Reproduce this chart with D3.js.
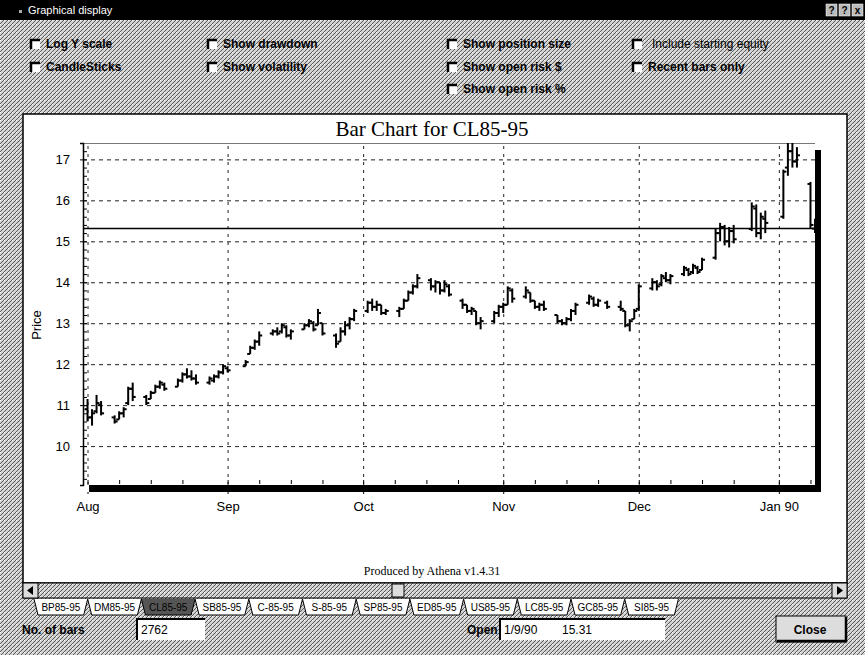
<!DOCTYPE html>
<html>
<head>
<meta charset="utf-8">
<script src="https://cdn.jsdelivr.net/npm/d3@7"></script>
<style>
  body { margin: 0; background: #fff; }
  svg { display: block; }
</style>
</head>
<body>
<div class="graph"></div>
<script>
// DATA –––––––––––––––––––––––––––––––––––––––––––––––––––––––––––––––

var barDates = [
  "8/1/89","8/2/89","8/3/89","8/4/89",
  "8/7/89","8/8/89","8/9/89","8/10/89","8/11/89",
  "8/14/89","8/15/89","8/16/89","8/17/89","8/18/89",
  "8/21/89","8/22/89","8/23/89","8/24/89","8/25/89",
  "8/28/89","8/29/89","8/30/89","8/31/89","9/1/89",
  "9/5/89","9/6/89","9/7/89","9/8/89",
  "9/11/89","9/12/89","9/13/89","9/14/89","9/15/89",
  "9/18/89","9/19/89","9/20/89","9/21/89","9/22/89",
  "9/25/89","9/26/89","9/27/89","9/28/89","9/29/89",
  "10/2/89","10/3/89","10/4/89","10/5/89","10/6/89",
  "10/9/89","10/10/89","10/11/89","10/12/89","10/13/89",
  "10/16/89","10/17/89","10/18/89","10/19/89","10/20/89",
  "10/23/89","10/24/89","10/25/89","10/26/89","10/27/89",
  "10/30/89","10/31/89","11/1/89","11/2/89","11/3/89",
  "11/6/89","11/7/89","11/8/89","11/9/89","11/10/89",
  "11/13/89","11/14/89","11/15/89","11/16/89","11/17/89",
  "11/20/89","11/21/89","11/22/89","11/24/89",
  "11/27/89","11/28/89","11/29/89","11/30/89","12/1/89",
  "12/4/89","12/5/89","12/6/89","12/7/89","12/8/89",
  "12/11/89","12/12/89","12/13/89","12/14/89","12/15/89",
  "12/18/89","12/19/89","12/20/89","12/21/89","12/22/89",
  "12/26/89","12/27/89","12/28/89","12/29/89",
  "1/2/90","1/3/90","1/4/90","1/5/90",
  "1/8/90","1/9/90"
];

var opens = [
  10.90,10.70,10.85,11.00,
  10.70,10.65,10.80,11.05,11.40,
  11.20,11.15,11.30,11.45,11.50,
  11.45,11.60,11.75,11.70,11.65,
  11.55,11.60,11.70,11.80,11.90,
  11.95,12.25,12.40,12.55,
  12.75,12.80,12.80,12.90,12.70,
  12.85,12.95,13.00,12.95,13.00,
  12.70,12.55,12.80,12.95,13.10,
  13.30,13.50,13.40,13.45,13.25,
  13.30,13.35,13.55,13.75,13.90,
  14.05,13.90,14.00,13.80,13.90,
  13.55,13.45,13.30,13.30,13.00,
  13.05,13.25,13.40,13.45,13.80,
  13.65,13.75,13.55,13.40,13.45,
  13.20,13.05,13.00,13.10,13.30,
  13.50,13.60,13.45,13.50,
  13.40,13.30,12.95,13.10,13.35,
  13.85,14.00,13.95,14.10,14.05,
  14.20,14.30,14.25,14.35,14.30,
  14.60,15.20,15.35,15.00,15.25,
  15.30,15.80,15.20,15.55,
  15.60,16.80,17.20,16.95,
  16.40,15.31
];

var highs = [
  11.15,10.90,11.25,11.10,
  10.75,10.85,10.95,11.45,11.55,
  11.25,11.35,11.50,11.60,11.55,
  11.65,11.80,11.90,11.85,11.75,
  11.70,11.75,11.85,12.00,11.95,
  12.10,12.45,12.60,12.80,
  12.85,12.90,13.00,12.95,12.85,
  13.00,13.10,13.05,13.35,13.00,
  12.75,12.90,13.05,13.15,13.35,
  13.55,13.60,13.55,13.45,13.35,
  13.40,13.60,13.80,13.95,14.20,
  14.10,14.05,14.00,14.05,13.95,
  13.60,13.45,13.40,13.30,13.15,
  13.30,13.45,13.50,13.90,13.85,
  13.90,13.75,13.55,13.50,13.55,
  13.20,13.10,13.15,13.35,13.50,
  13.70,13.65,13.60,13.55,
  13.55,13.30,13.10,13.35,13.95,
  14.10,14.05,14.20,14.25,14.20,
  14.40,14.35,14.45,14.40,14.60,
  15.30,15.45,15.40,15.35,15.40,
  15.95,15.90,15.70,15.75,
  16.75,17.40,17.40,17.30,
  16.45,15.55
];

var lows = [
  10.60,10.50,10.80,10.75,
  10.55,10.65,10.70,11.00,11.10,
  11.00,11.15,11.30,11.40,11.35,
  11.45,11.55,11.65,11.60,11.50,
  11.50,11.55,11.65,11.75,11.80,
  11.95,12.25,12.35,12.45,
  12.70,12.70,12.75,12.65,12.60,
  12.85,12.90,12.80,12.95,12.70,
  12.40,12.55,12.70,12.85,13.05,
  13.25,13.30,13.30,13.20,13.20,
  13.15,13.35,13.55,13.70,13.85,
  13.80,13.75,13.70,13.75,13.65,
  13.35,13.25,13.20,12.95,12.85,
  13.00,13.15,13.25,13.45,13.50,
  13.60,13.50,13.35,13.30,13.30,
  13.00,12.95,12.95,13.05,13.20,
  13.45,13.40,13.40,13.35,
  13.30,12.90,12.80,13.10,13.30,
  13.80,13.80,13.90,14.00,13.95,
  14.15,14.15,14.20,14.20,14.30,
  14.55,15.00,14.90,14.85,14.95,
  15.25,15.10,15.05,15.20,
  15.55,16.60,16.80,16.80,
  15.30,15.20
];

var closes = [
  10.70,10.80,11.05,10.80,
  10.60,10.80,10.90,11.40,11.20,
  11.05,11.30,11.45,11.55,11.40,
  11.60,11.75,11.70,11.65,11.55,
  11.65,11.70,11.80,11.95,11.85,
  12.05,12.40,12.55,12.70,
  12.80,12.75,12.95,12.70,12.80,
  12.95,13.05,12.85,13.25,12.75,
  12.50,12.80,12.95,13.10,13.30,
  13.50,13.40,13.45,13.25,13.30,
  13.35,13.55,13.75,13.90,14.10,
  13.90,14.00,13.80,13.95,13.70,
  13.45,13.30,13.35,13.00,13.05,
  13.25,13.40,13.45,13.85,13.60,
  13.80,13.55,13.40,13.45,13.35,
  13.05,13.00,13.10,13.30,13.45,
  13.65,13.45,13.55,13.40,
  13.35,12.95,13.05,13.30,13.90,
  14.00,13.90,14.15,14.05,14.15,
  14.35,14.20,14.40,14.25,14.55,
  15.20,15.35,15.00,15.25,15.05,
  15.85,15.20,15.60,15.45,
  16.70,17.20,16.95,17.10,
  15.40,15.45
];

var priceTicks = [10, 11, 12, 13, 14, 15, 16, 17];
var monthTicks = ["8/1/89", "9/1/89", "10/1/89", "11/1/89", "12/1/89", "1/1/90"];
var openPrice = 15.31;
var barCount = "2762";

var checkRow1 = ["Log Y scale", "Show drawdown", "Show position size", "Include starting equity"];
var checkRow2 = ["CandleSticks", "Show volatility", "Show open risk $", "Recent bars only"];
var checkRow3 = ["Show open risk %"];
var tabNames = ["BP85-95", "DM85-95", "CL85-95", "SB85-95", "C-85-95", "S-85-95",
                "SP85-95", "ED85-95", "US85-95", "LC85-95", "GC85-95", "SI85-95"];
var selectedTab = "CL85-95";


// DRAW –––––––––––––––––––––––––––––––––––––––––––––––––––––––––––––––

var W = 865, H = 655;
var sans = "'Liberation Sans', Arial, sans-serif";
var serif = "'Liberation Serif', 'Times New Roman', serif";
var narrow = "'Liberation Sans Narrow', 'Arial Narrow', 'Liberation Sans', sans-serif";

var parseDate = d3.timeParse("%m/%d/%y");

var ohlc = barDates.map(function(s, i) {
  return {date: parseDate(s), open: opens[i], high: highs[i], low: lows[i], close: closes[i]};
});

var svg = d3.select("div.graph").append("svg")
    .attr("width", W)
    .attr("height", H);

// dithered dialog background
var defs = svg.append("defs");
var pat = defs.append("pattern")
    .attr("id", "dither")
    .attr("width", 4).attr("height", 4)
    .attr("patternUnits", "userSpaceOnUse");
pat.append("rect").attr("width", 4).attr("height", 4).attr("fill", "#d2d2d2");
pat.append("path").attr("d", "M0,4L4,0M-1,1L1,-1M3,5L5,3").attr("stroke", "#5a5a5a").attr("stroke-width", 1);
pat.append("rect").attr("x", 0).attr("y", 0).attr("width", 1).attr("height", 1).attr("fill", "#fff");

svg.append("rect").attr("width", W).attr("height", H).attr("fill", "url(#dither)");

// title bar
svg.append("rect").attr("x", 0).attr("y", 0).attr("width", W).attr("height", 20).attr("fill", "#000");
svg.append("text")
    .attr("x", 28).attr("y", 14)
    .attr("fill", "#fff")
    .style("font-family", sans).style("font-size", "11px")
    .text("Graphical display");
svg.append("rect").attr("x", 19).attr("y", 10).attr("width", 3).attr("height", 3).attr("fill", "#aaa");
["?", "?", "x"].forEach(function(c, i) {
  var bx = 826 + i * 13;
  svg.append("rect").attr("x", bx).attr("y", 4).attr("width", 11).attr("height", 12)
      .attr("fill", "#bbb").attr("stroke", "#fff").attr("stroke-width", 0.5);
  svg.append("text").attr("x", bx + 5.5).attr("y", 14).attr("text-anchor", "middle")
      .style("font-family", sans).style("font-size", "10px").style("font-weight", "bold")
      .text(c);
});

// checkboxes
var checkCols = [30, 207, 447, 632];
function checkbox(cx, cy, label, bold) {
  var g = svg.append("g").attr("transform", "translate(" + cx + "," + cy + ")");
  g.append("rect").attr("x", 0).attr("y", -9).attr("width", 10).attr("height", 10).attr("fill", "#fff");
  g.append("path").attr("d", "M1,1V-8H10").attr("fill", "none").attr("stroke", "#000").attr("stroke-width", 2.5);
  g.append("text")
      .attr("x", bold ? 16 : 20).attr("y", 0)
      .style("font-family", sans).style("font-size", "12px")
      .style("font-weight", bold ? "bold" : "normal")
      .text(label);
}
checkRow1.forEach(function(l, i) { checkbox(checkCols[i], 48, l, l !== "Include starting equity"); });
checkRow2.forEach(function(l, i) { checkbox(checkCols[i], 71, l, true); });
checkRow3.forEach(function(l) { checkbox(checkCols[2], 93, l, true); });

// chart panel
svg.append("rect")
    .attr("x", 23).attr("y", 114).attr("width", 824).attr("height", 469)
    .attr("fill", "#fff").attr("stroke", "#000").attr("stroke-width", 1.5);

svg.append("text")
    .attr("x", 432).attr("y", 136)
    .attr("text-anchor", "middle")
    .style("font-family", serif).style("font-size", "21px")
    .text("Bar Chart for CL85-95");

svg.append("text")
    .attr("x", 432).attr("y", 575)
    .attr("text-anchor", "middle")
    .style("font-family", serif).style("font-size", "12px")
    .text("Produced by Athena v1.4.31");

// plot area
var plotL = 83, plotR = 815, plotT = 143, plotB = 485;

var x = d3.scaleTime()
    .domain([parseDate("7/31/89"), parseDate("1/9/90")])
    .range([plotL, plotR]);
var y = d3.scaleLinear()
    .domain([9.05, 17.4])
    .range([plotB, plotT]);

// drop shadow then white plot
svg.append("rect")
    .attr("x", plotL + 6).attr("y", plotT + 7)
    .attr("width", plotR - plotL).attr("height", plotB - plotT)
    .attr("fill", "#000");
svg.append("rect")
    .attr("x", plotL).attr("y", plotT)
    .attr("width", plotR - plotL).attr("height", plotB - plotT)
    .attr("fill", "#fff");
svg.append("line")
    .attr("x1", plotL).attr("x2", plotR).attr("y1", plotT + 0.5).attr("y2", plotT + 0.5)
    .attr("stroke", "#777").attr("stroke-width", 1);

// grid
var gridY = svg.append("g")
    .attr("transform", "translate(" + plotL + ",0)")
    .call(d3.axisLeft(y).tickValues(priceTicks).tickSize(-(plotR - plotL)).tickFormat(""));
gridY.select(".domain").remove();
gridY.selectAll("line").attr("stroke", "#222").attr("stroke-dasharray", "4,4");

var gridX = svg.append("g")
    .attr("transform", "translate(0," + plotB + ")")
    .call(d3.axisBottom(x).tickValues(monthTicks.map(parseDate)).tickSize(-(plotB - plotT)).tickFormat(""));
gridX.select(".domain").remove();
gridX.selectAll("line").attr("stroke", "#222").attr("stroke-dasharray", "3,5");

// left axis with labels
var yAxis = svg.append("g")
    .attr("transform", "translate(" + plotL + ",0)")
    .call(d3.axisLeft(y).tickValues(priceTicks).tickSize(3).tickPadding(10).tickFormat(d3.format("d")));
yAxis.select(".domain").attr("stroke", "#000").attr("stroke-width", 1.5);
yAxis.selectAll("text").style("font-family", sans).style("font-size", "13px");

// minor inner ticks on left axis
svg.append("g")
    .attr("transform", "translate(" + plotL + ",0)")
    .call(d3.axisRight(y).tickValues(d3.range(9.2, 17.4, 0.2)).tickSize(4).tickFormat(""))
    .call(function(g) { g.select(".domain").remove(); });

// bottom: weekly inner ticks and month labels
var weekTicks = d3.timeDay.range(x.domain()[0], x.domain()[1]).filter(function(d) {
  return [1, 8, 15, 22].indexOf(d.getDate()) >= 0;
});
svg.append("g")
    .attr("transform", "translate(0," + (plotB - 1) + ")")
    .call(d3.axisTop(x).tickValues(weekTicks).tickSize(4).tickFormat(""))
    .call(function(g) { g.select(".domain").remove(); });

var xAxis = svg.append("g")
    .attr("transform", "translate(0," + (plotB + 7) + ")")
    .call(d3.axisBottom(x).tickValues(monthTicks.map(parseDate)).tickSize(2).tickPadding(8)
      .tickFormat(function(d) { return d.getMonth() === 0 ? d3.timeFormat("%b %y")(d) : d3.timeFormat("%b")(d); }));
xAxis.select(".domain").remove();
xAxis.selectAll("text").style("font-family", sans).style("font-size", "13px");

// y label
svg.append("text")
    .attr("transform", "translate(41,325) rotate(-90)")
    .attr("text-anchor", "middle")
    .style("font-family", sans).style("font-size", "13px")
    .text("Price");

// bars
defs.append("clipPath").attr("id", "plotclip")
  .append("rect")
    .attr("x", plotL).attr("y", plotT)
    .attr("width", plotR - plotL + 6).attr("height", plotB - plotT);

var barG = svg.append("g").attr("clip-path", "url(#plotclip)");

var bars = barG.selectAll("g.bar")
    .data(ohlc)
  .enter().append("g")
    .attr("class", "bar");

bars.append("line")
    .attr("x1", function(d) { return x(d.date); })
    .attr("x2", function(d) { return x(d.date); })
    .attr("y1", function(d) { return y(d.high); })
    .attr("y2", function(d) { return y(d.low); })
    .attr("stroke", "#000").attr("stroke-width", 2);
bars.append("line")
    .attr("x1", function(d) { return x(d.date) - 3; })
    .attr("x2", function(d) { return x(d.date); })
    .attr("y1", function(d) { return y(d.open); })
    .attr("y2", function(d) { return y(d.open); })
    .attr("stroke", "#000").attr("stroke-width", 2);
bars.append("line")
    .attr("x1", function(d) { return x(d.date); })
    .attr("x2", function(d) { return x(d.date) + 3; })
    .attr("y1", function(d) { return y(d.close); })
    .attr("y2", function(d) { return y(d.close); })
    .attr("stroke", "#000").attr("stroke-width", 2);

// last open price line
svg.append("line")
    .attr("x1", plotL).attr("x2", plotR)
    .attr("y1", y(openPrice)).attr("y2", y(openPrice))
    .attr("stroke", "#000").attr("stroke-width", 1.5);

// scroll bar
svg.append("rect").attr("x", 23).attr("y", 583).attr("width", 824).attr("height", 15)
    .attr("fill", "url(#dither)").attr("stroke", "#000");
[[23, "M33,586L27,590.5L33,595Z"], [832, "M837,586L843,590.5L837,595Z"]].forEach(function(a) {
  svg.append("rect").attr("x", a[0]).attr("y", 583).attr("width", 15).attr("height", 15)
      .attr("fill", "#ddd").attr("stroke", "#000");
  svg.append("path").attr("d", a[1]).attr("fill", "#000");
});
svg.append("rect").attr("x", 392).attr("y", 584).attr("width", 12).attr("height", 13)
    .attr("fill", "#ddd").attr("stroke", "#000");

// sheet tabs
var tabW = 53.7;
tabNames.forEach(function(t, i) {
  var x0 = 34 + i * tabW, x1 = x0 + tabW;
  var sel = t === selectedTab;
  svg.append("path")
      .attr("d", "M" + x0 + ",599L" + (x0 + 4) + ",615L" + (x1 - 4) + ",615L" + x1 + ",599")
      .attr("fill", sel ? "#555" : "#fff")
      .attr("stroke", "#000").attr("stroke-width", 1);
  svg.append("text")
      .attr("x", (x0 + x1) / 2).attr("y", 611)
      .attr("text-anchor", "middle")
      .style("font-family", narrow).style("font-size", "10px")
      .attr("fill", "#000")
      .text(t);
});

// bottom controls
function field(fx, fy, fw, fh) {
  svg.append("rect").attr("x", fx).attr("y", fy).attr("width", fw).attr("height", fh).attr("fill", "#fff");
  svg.append("path").attr("d", "M" + fx + "," + (fy + fh) + "V" + fy + "H" + (fx + fw))
      .attr("fill", "none").attr("stroke", "#000").attr("stroke-width", 2);
}
svg.append("text").attr("x", 22).attr("y", 634)
    .style("font-family", sans).style("font-size", "12px").style("font-weight", "bold")
    .text("No. of bars");
field(137, 619, 68, 21);
svg.append("text").attr("x", 141).attr("y", 634)
    .style("font-family", sans).style("font-size", "12px")
    .text(barCount);

svg.append("text").attr("x", 467).attr("y", 634)
    .style("font-family", sans).style("font-size", "12px").style("font-weight", "bold")
    .text("Open");
field(500, 619, 165, 21);
svg.append("text").attr("x", 504).attr("y", 634)
    .style("font-family", sans).style("font-size", "12px")
    .text(d3.timeFormat("%-m/%-d/%y")(ohlc[ohlc.length - 1].date));
svg.append("text").attr("x", 562).attr("y", 634)
    .style("font-family", sans).style("font-size", "12px")
    .text(d3.format(".2f")(openPrice));

svg.append("rect").attr("x", 776).attr("y", 616).attr("width", 70).attr("height", 26)
    .attr("fill", "#ddd").attr("stroke", "#000").attr("stroke-width", 1);
svg.append("path").attr("d", "M777,641H846V617").attr("fill", "none").attr("stroke", "#000").attr("stroke-width", 2.5);
svg.append("text").attr("x", 810).attr("y", 634).attr("text-anchor", "middle")
    .style("font-family", sans).style("font-size", "12px").style("font-weight", "bold")
    .text("Close");
</script>
</body>
</html>
